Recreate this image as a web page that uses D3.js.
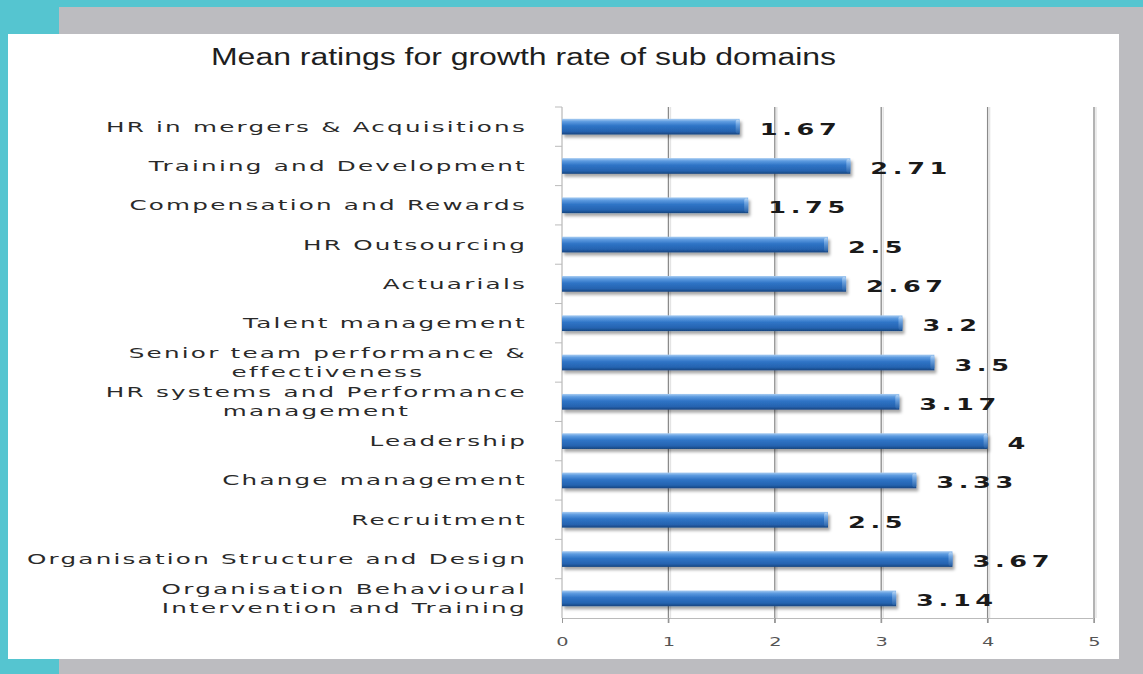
<!DOCTYPE html>
<html><head><meta charset="utf-8">
<script src="https://cdn.jsdelivr.net/npm/d3@7"></script>
<style>html,body{margin:0;padding:0;background:#55c5d0;}svg{display:block;}</style>
</head><body>
<svg id="c" width="1143" height="674"></svg>
<script>
const categories = [
  "HR in mergers & Acquisitions",
  "Training and Development",
  "Compensation and Rewards",
  "HR Outsourcing",
  "Actuarials",
  "Talent management",
  "Senior team performance &|effectiveness",
  "HR systems and Performance|management",
  "Leadership",
  "Change management",
  "Recruitment",
  "Organisation Structure and Design",
  "Organisation Behavioural|Intervention and Training"
];
const values = [1.67, 2.71, 1.75, 2.5, 2.67, 3.2, 3.5, 3.17, 4, 3.33, 2.5, 3.67, 3.14];
const valueLabels = ["1.67","2.71","1.75","2.5","2.67","3.2","3.5","3.17","4","3.33","2.5","3.67","3.14"];
const xTicks = [0, 1, 2, 3, 4, 5];
const title = "Mean ratings for growth rate of sub domains";

const svg = d3.select("#c");
// frame
svg.append("rect").attr("x",0).attr("y",0).attr("width",1143).attr("height",674).attr("fill","#55c5d0");
svg.append("rect").attr("x",59).attr("y",7).attr("width",1084).attr("height",667).attr("fill","#bcbcc0");
svg.append("rect").attr("x",8).attr("y",34).attr("width",1111).attr("height",625).attr("fill","#ffffff");

const defs = svg.append("defs");
const g1 = defs.append("linearGradient").attr("id","barg").attr("x1",0).attr("y1",0).attr("x2",0).attr("y2",1);
[[0,"#a9cdf2"],[0.18,"#5d9be0"],[0.45,"#2f74c6"],[0.8,"#2563b0"],[1,"#17457f"]].forEach(s=>g1.append("stop").attr("offset",s[0]).attr("stop-color",s[1]));
const g2 = defs.append("linearGradient").attr("id","capg").attr("x1",0).attr("y1",0).attr("x2",0).attr("y2",1);
[[0,"#c6def6"],[0.3,"#7fb1e8"],[1,"#2a63a8"]].forEach(s=>g2.append("stop").attr("offset",s[0]).attr("stop-color",s[1]));
const f = defs.append("filter").attr("id","sh").attr("x","-5%").attr("y","-30%").attr("width","115%").attr("height","190%");
f.append("feDropShadow").attr("dx",2).attr("dy",3).attr("stdDeviation",1.5).attr("flood-color","#000").attr("flood-opacity",0.35);

const SX_TITLE = 1.39, SX_CAT = 1.70, SX_VAL = 1.55, SX_TICK = 1.55;

svg.append("text").attr("transform",`translate(211,65) scale(${SX_TITLE},1)`)
  .attr("font-family","Liberation Sans, Arial, sans-serif")
  .attr("font-size",23).attr("fill","#1e1e1e").text(title);

const x = d3.scaleLinear().domain([0,5]).range([562,1094]);
const y = d3.scaleBand().domain(categories).range([107,618]).paddingInner(0.6).paddingOuter(0.3);
const yb = d3.scaleBand().domain(categories).range([107,618]);

// gridlines
svg.append("g").selectAll("line").data(xTicks.slice(1)).join("line")
  .attr("x1",d=>x(d)).attr("x2",d=>x(d)).attr("y1",107).attr("y2",623)
  .attr("stroke","#8a8a8a").attr("stroke-width",1.3);
svg.append("g").selectAll("line").data(xTicks.slice(1)).join("line")
  .attr("x1",d=>x(d)+2).attr("x2",d=>x(d)+2).attr("y1",107).attr("y2",618)
  .attr("stroke","#e4e4e4").attr("stroke-width",1.5);

// bottom axis
const xa = svg.append("g").attr("transform","translate(0,618)")
  .call(d3.axisBottom(x).tickValues(xTicks).tickSize(5).tickPadding(9).tickFormat(d3.format("d")));
xa.select(".domain").attr("stroke","#bbb");
xa.selectAll(".tick line").attr("stroke","#999");
xa.selectAll(".tick text").attr("font-family","DejaVu Sans, Verdana, sans-serif").attr("font-size",12.5)
  .attr("fill","#555").attr("y",0).attr("dy",0)
  .attr("transform",`translate(0,28) scale(${SX_TICK},1)`);

// left axis
const ya = svg.append("g").attr("transform","translate(562,0)");
ya.append("line").attr("x1",0).attr("x2",0).attr("y1",107).attr("y2",618).attr("stroke","#aaa");
ya.selectAll("line.t").data(categories).join("line").attr("class","t")
  .attr("x1",-7).attr("x2",0).attr("y1",d=>yb(d)).attr("y2",d=>yb(d)).attr("stroke","#bbb");

// bars
const bars = svg.append("g");
bars.selectAll("rect.b").data(values).join("rect").attr("class","b")
  .attr("x",x(0)).attr("y",(d,i)=>y(categories[i])).attr("width",d=>x(d)-x(0)).attr("height",y.bandwidth())
  .attr("fill","url(#barg)").attr("filter","url(#sh)");
bars.selectAll("rect.c").data(values).join("rect").attr("class","c")
  .attr("x",d=>x(d)-4).attr("y",(d,i)=>y(categories[i])+1).attr("width",4).attr("height",y.bandwidth()-2)
  .attr("rx",2).attr("fill","url(#capg)").attr("opacity",0.8);

// value labels
svg.append("g").selectAll("text").data(values).join("text")
  .attr("transform",(d,i)=>`translate(${x(d)+20},${y(categories[i])+y.bandwidth()/2+8}) scale(${SX_VAL},1)`)
  .attr("font-family","DejaVu Sans, Verdana, sans-serif").attr("font-weight","bold").attr("font-size",16.5)
  .attr("letter-spacing","3px").attr("fill","#1a1a1a").text((d,i)=>valueLabels[i]);

// category labels
const lab = svg.append("g");
const RIGHT = 527;
categories.forEach((c,i)=>{
  const lines = c.split("|");
  const cy = yb(c)+yb.bandwidth()/2;
  const t = lab.append("text").attr("font-family","DejaVu Sans, Verdana, sans-serif").attr("font-size",14.5)
    .attr("fill","#2a2a2a").attr("letter-spacing","1.3px").attr("text-anchor", lines.length>1?"middle":"end");
  const lh = 19;
  lines.forEach((l,k)=>{
    t.append("tspan").attr("x",0).attr("y", 5 + (k-(lines.length-1)/2)*lh).text(l);
  });
  if(lines.length>1){
    let mw = 0; t.selectAll("tspan").each(function(){mw=Math.max(mw,this.getComputedTextLength());});
    t.attr("transform",`translate(${RIGHT - mw*SX_CAT/2},${cy}) scale(${SX_CAT},1)`);
  } else {
    t.attr("transform",`translate(${RIGHT},${cy}) scale(${SX_CAT},1)`);
  }
});
</script>
</body></html>
